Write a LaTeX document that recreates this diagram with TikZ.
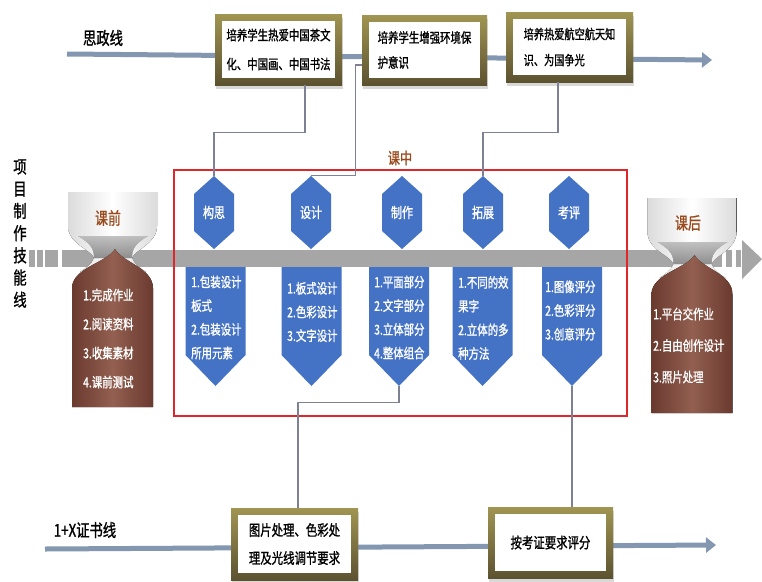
\documentclass[tikz,border=0pt]{standalone}
\usepackage{fontspec}
\newfontfamily\cjk[FakeStretch=0.76,FakeBold=1.2]{Noto Sans CJK SC}
\usetikzlibrary{arrows.meta,shadows}
\definecolor{linec}{HTML}{8497B0}
\definecolor{gtop}{HTML}{A19552}
\definecolor{gbot}{HTML}{5C5230}
\definecolor{connc}{HTML}{7E8194}
\definecolor{hexblue}{HTML}{4472C4}
\definecolor{barc}{HTML}{A6A6A6}
\definecolor{redc}{HTML}{E0262B}
\definecolor{brD}{HTML}{6B3A2F}
\definecolor{brL}{HTML}{925F50}
\definecolor{brtxt}{HTML}{9A4B1E}
\tikzset{
  flowline/.style={linec, line width=5pt, -{Triangle[length=10pt,width=15pt]}},
  goldbox/.style={top color=gtop, bottom color=gbot, inner sep=0pt, drop shadow={opacity=0.3, shadow xshift=1pt, shadow yshift=-4pt}},
  whitebox/.style={fill=white, inner sep=0pt, align=left, font=\cjk\fontsize{13.7}{27}\selectfont, text=black},
  conn/.style={connc, line width=1.2pt},
  hexlbl/.style={minimum width=40pt, minimum height=73pt, inner sep=0pt, text=white, font=\cjk\fontsize{14.5}{16}\selectfont},
  pentbox/.style={minimum width=60pt, minimum height=119pt, inner sep=0pt},
  penttxt/.style={text=white, align=left, inner sep=0pt, anchor=west, font=\cjk\fontsize{13.7}{23.7}\selectfont},
  browntxt/.style={text=white, align=left, inner sep=0pt, anchor=west, font=\cjk\fontsize{13.7}{29}\selectfont},
  titletxt/.style={font=\cjk\fontsize{17.5}{20}\selectfont, text=black, inner sep=0pt},
  hgtop/.style={left color=gray!28, right color=gray!28, middle color=white},
  hgneck/.style={top color=white, bottom color=gray!65, opacity=0.6},
  hgbot/.style={left color=brD, right color=brD, middle color=brL},
  labeltxt/.style={font=\cjk\fontsize{17}{19}\selectfont, text=brtxt, inner sep=0pt},
}
\newcommand\mkhex[3]{%
  \fill[hexblue] (#2,176) -- ++(20,18) -- ++(0,37) -- ++(-20,18) -- ++(-20,-18) -- ++(0,-37) -- cycle;
  \node[hexlbl] (#1) at (#2,212.5) {#3};}
\newcommand\mkpent[2]{%
  \fill[hexblue] (#2-30,267) -- (#2+30,267) -- (#2+30,355) -- (#2,386) -- (#2-30,355) -- cycle;
  \node[pentbox] (#1) at (#2,326.5) {};}
\newcommand\mkhourglass{%
  \fill[hgtop] (68,192) -- (157,192) -- (157,226) .. controls (157,244) and (134,250) .. (132,258) .. controls (134,264) and (140,268) .. (146,272) -- (80,272) .. controls (86,268) and (92,264) .. (94,258) .. controls (92,250) and (68,244) .. (68,226) -- cycle;
  \fill[hgneck] (78,236) .. controls (92,244) and (94,250) .. (94,258) -- (132,258) .. controls (132,250) and (134,244) .. (148,236) -- cycle;
  \fill[hgbot] (115,249) .. controls (122,262) and (153,268) .. (153,288) -- (153,407) -- (72,407) -- (72,288) .. controls (72,268) and (108,262) .. (115,249) -- cycle;}
\begin{document}
\begin{tikzpicture}[x=1pt,y=-1pt]
\useasboundingbox (0,0) rectangle (762,581);
\fill[white] (0,0) rectangle (762,581);

% titles
\node[titletxt] (sz) at (103,38) {思政线};
\node[titletxt] (zs) at (85,530) {1+X证书线};
\node[titletxt, align=center, font=\cjk\fontsize{17.5}{22.2}\selectfont] (xm) at (20,233.5) {项\\目\\制\\作\\技\\能\\线};

% flow lines
\coordinate (sza) at (67,54);
\coordinate (szb) at (712,60);
\draw[flowline] (sza) -- (szb);
\coordinate (zsa) at (45,549);
\coordinate (zsb) at (716,545);
\draw[flowline] (zsa) -- (zsb);

% top boxes
\node[goldbox, minimum width=127pt, minimum height=71pt] (b1) at (278.5,49.5) {};
\node[whitebox, minimum width=113pt, minimum height=57pt, font=\cjk\fontsize{13.7}{29}\selectfont] (t1) at (b1) {培养学生热爱中国茶文\\化、中国画、中国书法};
\node[goldbox, minimum width=125pt, minimum height=70pt] (b2) at (424.5,50) {};
\node[whitebox, minimum width=111pt, minimum height=56pt, font=\cjk\fontsize{13.7}{25}\selectfont] (t2) at (b2) {培养学生增强环境保\\护意识};
\node[goldbox, minimum width=127pt, minimum height=70pt] (b3) at (569.5,47) {};
\node[whitebox, minimum width=113pt, minimum height=56pt, font=\cjk\fontsize{13.4}{26}\selectfont] (t3) at (b3) {培养热爱航空航天知\\识、为国争光};

% bottom boxes
\node[goldbox, minimum width=127pt, minimum height=72pt] (b4) at (294.5,544) {};
\node[whitebox, minimum width=113pt, minimum height=58pt, font=\cjk\fontsize{15}{28}\selectfont] (t4) at (b4) {图片处理、色彩处\\理及光线调节要求};
\node[goldbox, minimum width=125pt, minimum height=71pt] (b5) at (550.5,542.5) {};
\node[whitebox, minimum width=111pt, minimum height=57pt, font=\cjk\fontsize{15}{28}\selectfont] (t5) at (b5) {按考证要求评分};

% gray bar
\fill[barc] (62,250) rectangle (700,267);
\fill[barc] (29,250) rectangle (35,267);
\fill[barc] (37,250) rectangle (43,267);
\fill[barc] (45,250) rectangle (58,267);
\fill[barc] (712,250) rectangle (722,267);
\fill[barc] (726,250) rectangle (732,267);
\fill[barc] (736,250) rectangle (741,267);
\fill[barc] (742,240) -- (762,259) -- (742,279) -- cycle;

% hourglasses
\mkhourglass
\begin{scope}[shift={(579.5,6)}]
\mkhourglass
\end{scope}
\node[labeltxt] (kq) at (108,218) {课前};
\node[labeltxt] (kh) at (688,223) {课后};
\node[browntxt] (kqt) at (83,338.5) {1.完成作业\\2.阅读资料\\3.收集素材\\4.课前测试};
\node[browntxt, font=\cjk\fontsize{13.7}{31.5}\selectfont] (kht) at (653,345.5) {1.平台交作业\\2.自由创作设计\\3.照片处理};

% red frame
\node[draw=redc, line width=1.1pt, minimum width=453pt, minimum height=246pt, inner sep=0pt] (kz) at (400.5,293) {};
\node[labeltxt, font=\cjk\fontsize{16}{18}\selectfont] (kzl) at (400,158) {课中};

% hexagons
\mkhex{h1}{214}{构思}
\mkhex{h2}{311}{设计}
\mkhex{h3}{402}{制作}
\mkhex{h4}{483}{拓展}
\mkhex{h5}{569}{考评}

% pentagons
\mkpent{p1}{215.5}
\mkpent{p2}{311.5}
\mkpent{p3}{399}
\mkpent{p4}{482.5}
\mkpent{p5}{572}
\node[penttxt] (q1) at (191,317.5) {1.包装设计\\板式\\2.包装设计\\所用元素};
\node[penttxt] (q2) at (287,312) {1.板式设计\\2.色彩设计\\3.文字设计};
\node[penttxt] (q3) at (374,317.5) {1.平面部分\\2.文字部分\\3.立体部分\\4.整体组合};
\node[penttxt] (q4) at (458,318) {1.不同的效\\果字\\2.立体的多\\种方法};
\node[penttxt] (q5) at (545,310.5) {1.图像评分\\2.色彩评分\\3.创意评分};

% connectors
\draw[conn] ([xshift=26.5pt]b1.south) -- ++(0,47) -| (h1.north);
\draw[conn] ([yshift=-15pt]b2.west) -- ++(-6,0) |- (h2.north);
\draw[conn] ([xshift=-11.5pt]b3.south) -- ++(0,50) -| (h4.north);
\draw[conn] (p3.south) -- ++(0,16) -| ([xshift=3.5pt]b4.north);
\draw[conn] (p5.south) -- (p5.south |- b5.north);
\end{tikzpicture}
\end{document}
